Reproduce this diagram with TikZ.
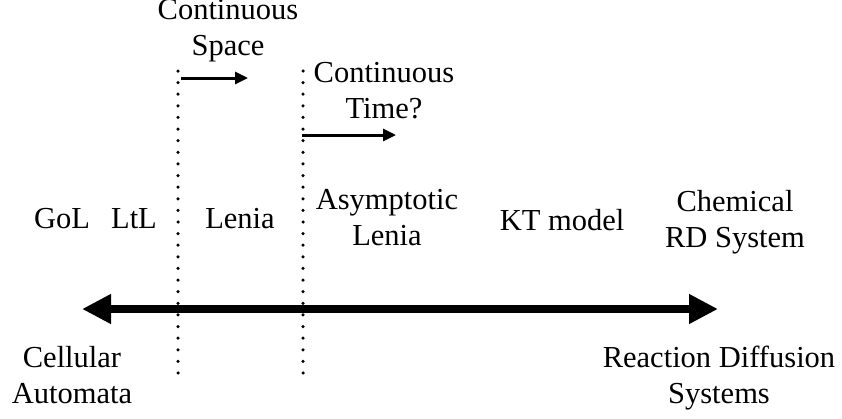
\documentclass[tikz,border=0pt]{standalone}
\usepackage{fontspec}
\setmainfont{Liberation Serif}
\usetikzlibrary{arrows.meta}
\begin{document}
\begin{tikzpicture}[x=1pt,y=-1pt,
  lbl/.style={inner sep=0pt,anchor=base,align=center,font=\fontsize{30.5}{36}\selectfont},
  dotline/.style={line width=3.5pt,line cap=round,dash pattern=on 0pt off 11.615pt},
  bigarrow/.style={line width=8pt,{Triangle[length=29pt,width=28pt]}-{Triangle[length=29pt,width=28pt]}},
  smallarrow/.style={line width=3pt,-{Triangle[length=13pt,width=12pt]}}]
\useasboundingbox (0,0) rectangle (842,418);
% labels (anchor base = baseline of last line)
\node[lbl] (cs) at (228,55) {Continuous\\Space};
\node[lbl] (ct) at (384,118) {Continuous\\Time?};
\node[lbl] (gol) at (62,228) {GoL};
\node[lbl] (ltl) at (134,228) {LtL};
\node[lbl] (lenia) at (240,228) {Lenia};
\node[lbl] (al) at (387,245) {Asymptotic\\Lenia};
\node[lbl] (kt) at (562,230) {KT model};
\node[lbl] (chem) at (735,247) {Chemical\\RD System};
\node[lbl] (ca) at (72,403) {Cellular\\Automata};
\node[lbl] (rds) at (719,403) {Reaction Diffusion\\Systems};
% coordinates
\coordinate (d1t) at (178,71);
\coordinate (d1b) at (178,373);
\coordinate (d2t) at (303,71);
\coordinate (d2b) at (303,373);
\coordinate (axl) at (82,309);
\coordinate (axr) at (718,309);
\coordinate (s1a) at (181,78);
\coordinate (s1b) at (248,78);
\coordinate (s2a) at (302,135);
\coordinate (s2b) at (396,135);
% dotted separators
\draw[dotline] (d1t) -- (d1b);
\draw[dotline] (d2t) -- (d2b);
% arrows
\draw[bigarrow] (axl) -- (axr);
\draw[smallarrow] (s1a) -- (s1b);
\draw[smallarrow] (s2a) -- (s2b);
\end{tikzpicture}
\end{document}
